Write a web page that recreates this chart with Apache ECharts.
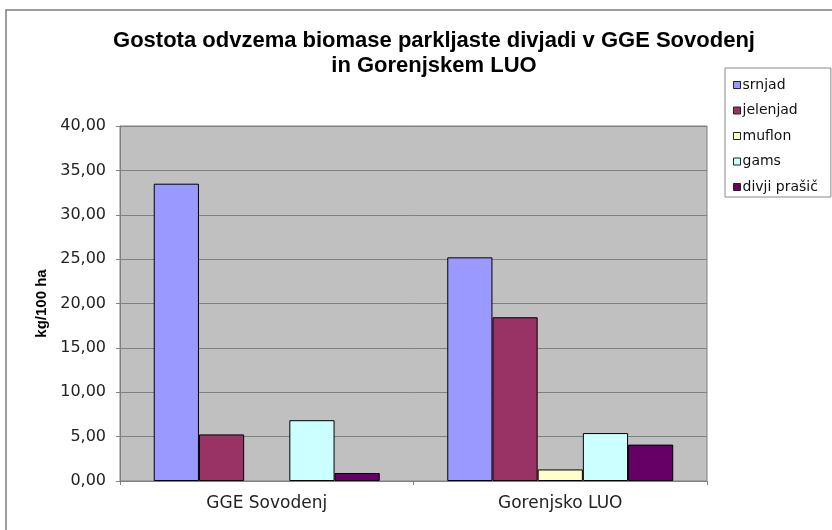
<!DOCTYPE html>
<html>
<head>
<meta charset="utf-8">
<script src="https://cdn.jsdelivr.net/npm/echarts@6/dist/echarts.min.js"></script>
<style>
  html, body { margin: 0; padding: 0; background: #fff; }
  #chart { width: 832px; height: 530px; }
</style>
</head>
<body>
<div id="chart"></div>
<script>
// podatki
var categories = ['GGE Sovodenj', 'Gorenjsko LUO'];
var seriesNames = ['srnjad', 'jelenjad', 'muflon', 'gams', 'divji prašič'];
var srnjad = [33.5, 25.2];
var jelenjad = [5.25, 18.45];
var muflon = [0, 1.3];
var gams = [6.85, 5.4];
var divjiPrasic = [0.9, 4.1];
var colors = ['#9999FF', '#993366', '#FFFFCC', '#CCFFFF', '#660066'];

var values = [srnjad, jelenjad, muflon, gams, divjiPrasic];

var myChart = echarts.init(document.getElementById('chart'));

var series = [];
for (var i = 0; i < seriesNames.length; i++) {
    series.push({
        name: seriesNames[i],
        type: 'bar',
        // ničelni stolpci brez obrobe
        data: values[i].map(function (v) {
            return v === 0 ? { value: v, itemStyle: { borderWidth: 0 } } : v;
        }),
        barGap: '0%',
        barCategoryGap: '23%',
        itemStyle: {
            color: colors[i],
            borderColor: '#000',
            borderWidth: 1
        }
    });
}

var option = {
    animation: false,
    backgroundColor: '#fff',
    graphic: [{
        type: 'rect',
        z: -10,
        shape: { x: 6, y: 10, width: 900, height: 600 },
        style: { fill: 'none', stroke: '#7f7f7f', lineWidth: 1.5 }
    }],
    title: {
        text: 'Gostota odvzema biomase parkljaste divjadi v GGE Sovodenj\nin Gorenjskem LUO',
        left: 434,
        top: 28,
        padding: 0,
        textAlign: 'center',
        textStyle: {
            fontFamily: 'Liberation Sans',
            fontWeight: 'bold',
            fontSize: 22,
            lineHeight: 25,
            color: '#000'
        }
    },
    legend: {
        orient: 'vertical',
        left: 725,
        top: 68,
        padding: [10, 13, 3, 8],
        itemGap: 11.5,
        itemWidth: 7,
        itemHeight: 7,
        backgroundColor: '#fff',
        borderColor: '#888',
        borderWidth: 1,
        data: seriesNames.map(function (n) {
            return { name: n, icon: 'rect', itemStyle: { borderColor: '#222', borderWidth: 1 } };
        }),
        textStyle: {
            fontFamily: 'DejaVu Sans',
            fontSize: 14,
            color: '#111',
            padding: [0, 0, 0, -3]
        }
    },
    grid: {
        show: true,
        left: 120,
        right: 125,
        top: 126,
        bottom: 49,
        backgroundColor: '#c0c0c0',
        borderColor: '#808080',
        borderWidth: 1
    },
    xAxis: {
        type: 'category',
        data: categories,
        axisLine: { lineStyle: { color: '#808080', width: 1 } },
        axisTick: { show: true, length: 4, alignWithLabel: false, lineStyle: { color: '#808080' } },
        axisLabel: {
            margin: 14,
            fontFamily: 'DejaVu Sans',
            fontSize: 17,
            color: '#222'
        }
    },
    yAxis: {
        type: 'value',
        min: 0,
        max: 40,
        interval: 5,
        name: 'kg/100 ha',
        nameLocation: 'middle',
        nameRotate: 90,
        nameGap: 65,
        nameTextStyle: {
            fontFamily: 'Liberation Sans',
            fontWeight: 'bold',
            fontSize: 15,
            color: '#000'
        },
        axisLine: { show: true, lineStyle: { color: '#808080', width: 1 } },
        axisTick: { show: true, length: 4, lineStyle: { color: '#808080' } },
        axisLabel: {
            margin: 14,
            fontFamily: 'DejaVu Sans',
            fontSize: 16,
            color: '#222',
            formatter: function (v) {
                return v.toFixed(2).replace('.', ',');
            }
        },
        splitLine: { show: true, lineStyle: { color: '#808080', width: 1 } }
    },
    series: series
};

myChart.setOption(option);
</script>
</body>
</html>
